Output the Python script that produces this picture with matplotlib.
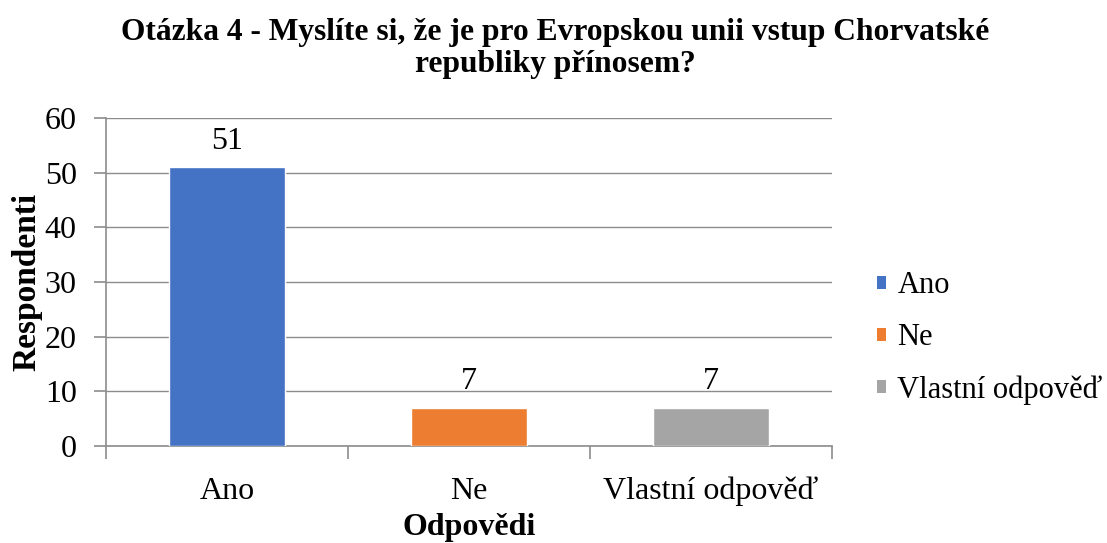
import matplotlib
matplotlib.use("Agg")
import matplotlib.pyplot as plt
from matplotlib.patches import Patch

categories = ["Ano", "Ne", "Vlastní odpověď"]
values = [51, 7, 7]
colors = ["#4472C4", "#ED7D31", "#A5A5A5"]
title = "Otázka 4 - Myslíte si, že je pro Evropskou unii vstup Chorvatské\nrepubliky přínosem?"
y_ticks = [0, 10, 20, 30, 40, 50, 60]

plt.rcParams["font.family"] = ["Liberation Serif", "DejaVu Serif"]

fig = plt.figure(figsize=(11.07, 5.43), dpi=100)
ax = fig.add_axes([106/1107, 1 - 446/543, (832-106)/1107, (446-118)/543])

x = list(range(len(categories)))
ax.bar(x, values, width=0.48, color=colors, edgecolor="white", linewidth=1, zorder=3)
for xi, v in zip(x, values):
    ax.text(xi, v + 2.1, str(v), ha="center", va="bottom", fontsize=23)

ax.set_xlim(-0.5, len(categories) - 0.5)
ax.set_ylim(0, 60)
ax.set_yticks(y_ticks)
ax.set_xticks(x)
ax.set_xticklabels(categories)
ax.set_xticks([-0.5, 0.5, 1.5, 2.5], minor=True)
ax.tick_params(axis="x", which="major", length=0, pad=22, labelsize=23)
ax.tick_params(axis="x", which="minor", length=9, color="#8c8c8c", width=1.2)
ax.tick_params(axis="y", length=9, color="#8c8c8c", width=1.2, labelsize=23, pad=12)
ax.grid(axis="y", color="#8c8c8c", linewidth=1.0, zorder=0)
for s in ["top", "right"]:
    ax.spines[s].set_visible(False)
for s in ["left", "bottom"]:
    ax.spines[s].set_color("#8c8c8c")
    ax.spines[s].set_linewidth(1.2)

ax.set_ylabel("Respondenti", fontsize=24, fontweight="bold", labelpad=2)
ax.set_xlabel("Odpovědi", fontsize=23, fontweight="bold", labelpad=5)

fig.suptitle(title, fontsize=22.7, fontweight="bold", x=555/1107, y=0.966, va="top", linespacing=1.1)

handles = [Patch(facecolor=c, edgecolor="none") for c in colors]
leg = fig.legend(handles, categories, loc="center left", bbox_to_anchor=(862/1107, 1 - 338/543),
                 frameon=False, fontsize=22, handlelength=0.3, handleheight=0.3,
                 handletextpad=0.36, labelspacing=0.75, borderpad=0)

fig.savefig("out.png", dpi=100)
